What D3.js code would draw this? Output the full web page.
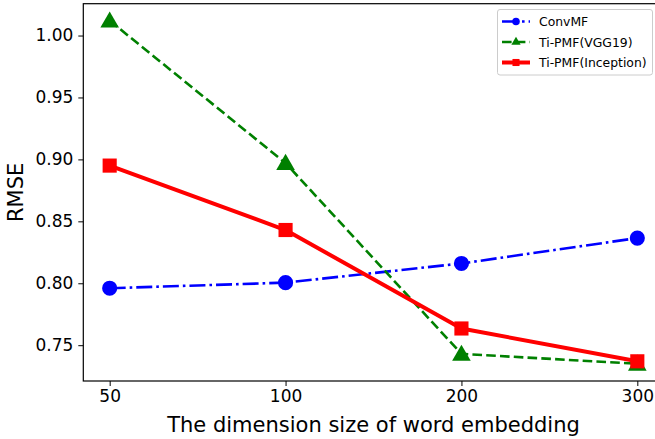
<!DOCTYPE html>
<html><head><meta charset="utf-8">
<script src="https://cdn.jsdelivr.net/npm/d3@7"></script>
<style>body{margin:0;background:#fff}svg{display:block;font-family:"DejaVu Sans",sans-serif}</style>
</head><body><svg id="c" width="655" height="439"></svg>
<script>
const categories = ["50","100","200","300"];
const convmf = [0.796, 0.8005, 0.816, 0.8365];
const vgg19 = [1.012, 0.897, 0.743, 0.735];
const inception = [0.895, 0.843, 0.7635, 0.737];
const yTicks = [0.75, 0.80, 0.85, 0.90, 0.95, 1.00];
const seriesNames = ["ConvMF","Ti-PMF(VGG19)","Ti-PMF(Inception)"];

const svg = d3.select("#c");
const L = 83.3, R = 663.7, T = 3.7, B = 381;
const span = (R - L) / 3.3;
const x = d3.scalePoint().domain(categories).range([L + 0.15*span, R - 0.15*span]).padding(0);
const y = d3.scaleLinear().domain([0.7211, 1.0257]).range([B, T]);

const xa = svg.append("g").attr("transform", `translate(0,${B})`)
  .call(d3.axisBottom(x).tickSize(5).tickPadding(4));
const ya = svg.append("g").attr("transform", `translate(${L},0)`)
  .call(d3.axisLeft(y).tickValues(yTicks).tickFormat(d3.format(".2f")).tickSize(5).tickPadding(5));
[xa, ya].forEach(a => {
  a.selectAll("text").attr("font-size", 17).attr("fill", "#000").attr("font-family", "DejaVu Sans");
  a.selectAll("line").attr("stroke", "#000").attr("stroke-width", 1);
  a.select(".domain").remove();
});
svg.append("rect").attr("x", L).attr("y", T).attr("width", R - L).attr("height", B - T)
  .attr("fill", "none").attr("stroke", "#000").attr("stroke-width", 1.2);

const specs = [
  {name: seriesNames[0], vals: convmf, color: "#0000ff", lw: 2.6, dash: "16,4,2.6,4", marker: "circle"},
  {name: seriesNames[1], vals: vgg19, color: "#008000", lw: 2.6, dash: "9.6,4.2", marker: "triangle"},
  {name: seriesNames[2], vals: inception, color: "#ff0000", lw: 4, dash: null, marker: "square"}
];
const line = d3.line().x((d, i) => x(categories[i])).y(d => y(d));
const sym = {circle: d3.symbolCircle, triangle: d3.symbolTriangle, square: d3.symbolSquare};
const size = {circle: 180, triangle: 150, square: 200};

const plot = svg.append("g");
specs.forEach(s => {
  plot.append("path").datum(s.vals).attr("d", line).attr("fill", "none")
    .attr("stroke", s.color).attr("stroke-width", s.lw)
    .attr("stroke-dasharray", s.dash).attr("stroke-linejoin", "round");
  plot.selectAll(null).data(s.vals).enter().append("path")
    .attr("d", d3.symbol().type(sym[s.marker]).size(size[s.marker]))
    .attr("transform", (d, i) => `translate(${x(categories[i])},${y(d) + (s.marker === "triangle" ? 1.5 : 0)})`)
    .attr("fill", s.color);
});

const lg = svg.append("g");
lg.append("rect").attr("x", 497.5).attr("y", 9.5).attr("width", 155).attr("height", 65.5)
  .attr("rx", 2.5).attr("fill", "#fff").attr("fill-opacity", 0.8).attr("stroke", "#ccc").attr("stroke-width", 1);
specs.forEach((s, i) => {
  const yy = 21.5 + i * 20.5;
  lg.append("line").attr("x1", 502).attr("x2", 530).attr("y1", yy).attr("y2", yy)
    .attr("stroke", s.color).attr("stroke-width", s.lw).attr("stroke-dasharray", s.dash);
  lg.append("path").attr("d", d3.symbol().type(sym[s.marker]).size(size[s.marker] * 0.25))
    .attr("transform", `translate(516,${yy})`).attr("fill", s.color);
  lg.append("text").attr("x", 539).attr("y", yy + 4.5).attr("font-size", 12.4).text(s.name);
});

svg.append("text").attr("x", (L + R) / 2).attr("y", 432).attr("text-anchor", "middle")
  .attr("font-size", 21).text("The dimension size of word embedding");
svg.append("text").attr("transform", `translate(23,${(T + B) / 2}) rotate(-90)`).attr("text-anchor", "middle")
  .attr("font-size", 21).text("RMSE");
</script></body></html>
